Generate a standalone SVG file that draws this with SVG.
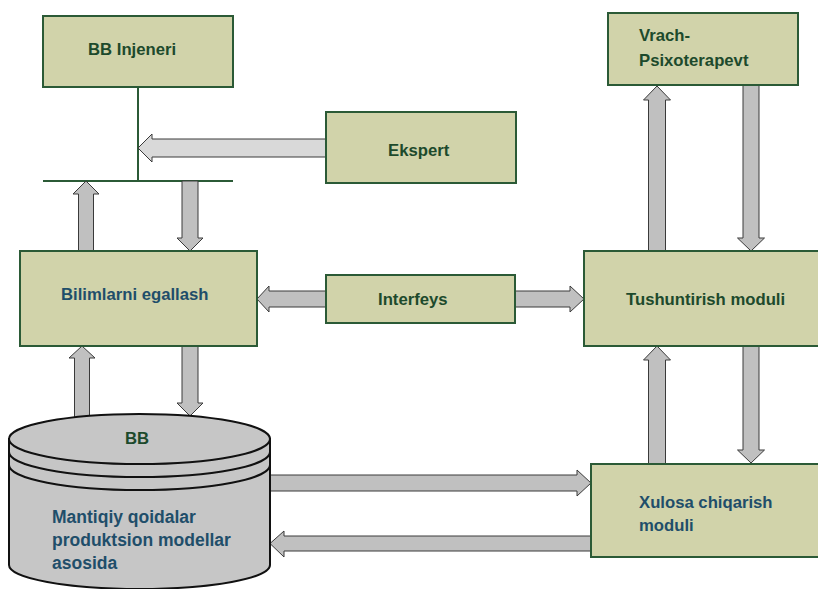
<svg xmlns="http://www.w3.org/2000/svg" width="818" height="589" viewBox="0 0 818 589">
<style>
.box{fill:#d1d3aa;stroke:#2b5a36;stroke-width:2}
.arr{fill:#c0c0c0;stroke:#3a3a3a;stroke-width:1;stroke-linejoin:miter}
.arr2{fill:#d9d9d9;stroke:#3a3a3a;stroke-width:1}
.ln{stroke:#2b5a36;stroke-width:2;fill:none}
.t{font-family:"Liberation Sans",Arial,sans-serif;font-weight:bold;font-size:16.7px}
.big{font-size:17.5px}
.g{fill:#1d4a2c}
.b{fill:#1f4e6a}
.cyl{fill:#c6c6c6;stroke:#111;stroke-width:2}
.band{fill:none;stroke:#111;stroke-width:2}
</style>
<rect width="818" height="589" fill="#fff"/>
<g id="connectors">
<line class="ln" x1="138" y1="87" x2="138" y2="181"/>
<line class="ln" x1="43" y1="181" x2="233" y2="181"/>
<polygon class="arr2" points="326,139 152,139 152,134 138,148 152,162 152,157 326,157"/>
<polygon class="arr" points="78.5,251 78.5,194 73,194 86,181 99,194 93.5,194 93.5,251"/>
<polygon class="arr" points="182,181 182,238 177,238 190,251 203,238 198,238 198,181"/>
<polygon class="arr" points="74.5,420 74.5,358 69,358 82,346 95,358 89.5,358 89.5,420"/>
<polygon class="arr" points="182,346 182,403 177,403 190,416 203,403 198,403 198,346"/>
<polygon class="arr" points="326,291 269,291 269,286 257,299 269,312 269,307 326,307"/>
<polygon class="arr" points="515,291 570,291 570,286 584,299 570,312 570,307 515,307"/>
<polygon class="arr" points="648.5,251 648.5,100 643.5,100 657,86 670.5,100 665.5,100 665.5,251"/>
<polygon class="arr" points="743,85 743,238 737.5,238 751,251 764.5,238 759,238 759,85"/>
<polygon class="arr" points="648.5,464 648.5,360 643.5,360 657,346 670.5,360 665.5,360 665.5,464"/>
<polygon class="arr" points="743,346 743,450 737.5,450 751,463 764.5,450 759,450 759,346"/>
<polygon class="arr" points="265,475 577,475 577,470 591,483 577,496 577,491 265,491"/>
<polygon class="arr" points="592,536 284,536 284,531 270,543.5 284,557 284,551 592,551"/>
</g>
<g id="bb-injeneri">
<rect class="box" x="43" y="16" width="190" height="71"/>
<text class="t g" x="88" y="55">BB Injeneri</text>
</g>
<g id="ekspert">
<rect class="box" x="326" y="112" width="190" height="71"/>
<text class="t g" x="388" y="156">Ekspert</text>
</g>
<g id="vrach">
<rect class="box" x="608" y="13" width="190" height="72"/>
<text class="t g" x="639" y="41">Vrach-</text>
<text class="t g" x="639" y="66">Psixoterapevt</text>
</g>
<g id="bilimlarni">
<rect class="box" x="20" y="251" width="237" height="95"/>
<text class="t b" x="61" y="300">Bilimlarni egallash</text>
</g>
<g id="interfeys">
<rect class="box" x="326" y="275" width="189" height="48"/>
<text class="t g" x="378" y="305">Interfeys</text>
</g>
<g id="tushuntirish">
<rect class="box" x="584" y="251" width="240" height="95"/>
<text class="t g" x="626" y="305">Tushuntirish moduli</text>
</g>
<g id="xulosa">
<rect class="box" x="591" y="464" width="240" height="93"/>
<text class="t b" x="639" y="508">Xulosa chiqarish</text>
<text class="t b" x="639" y="531">moduli</text>
</g>
<g id="bb">
<path class="cyl" d="M9,439 L9,565 A130.5,24 0 0 0 270,565 L270,439 Z"/>
<ellipse class="cyl" cx="139.5" cy="439" rx="130.5" ry="25"/>
<path class="band" d="M9,452 A130.5,25 0 0 0 270,452"/>
<path class="band" d="M9,465 A130.5,25 0 0 0 270,465"/>
<text class="t g" x="125" y="444">BB</text>
<text class="t b big" x="52" y="523">Mantiqiy qoidalar</text>
<text class="t b big" x="52" y="546">produktsion modellar</text>
<text class="t b big" x="52" y="569">asosida</text>
</g>
</svg>
